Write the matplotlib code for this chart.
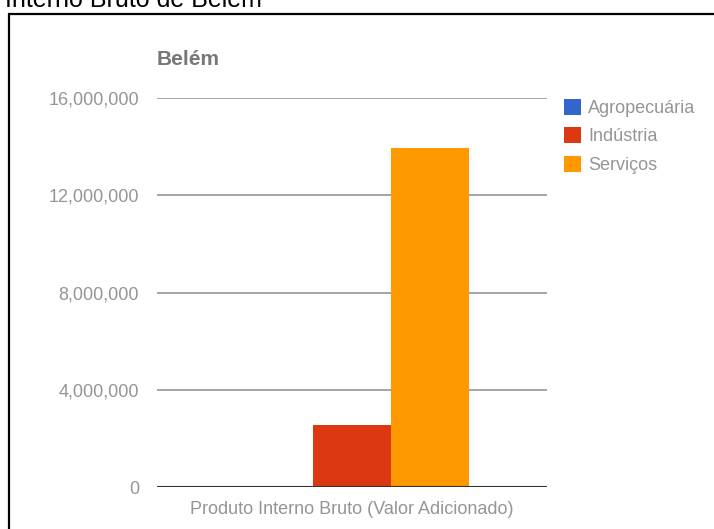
import matplotlib.pyplot as plt
from matplotlib.patches import Rectangle

# data (valor adicionado, Belém)
categories = ["Produto Interno Bruto (Valor Adicionado)"]
series = ["Agropecuária", "Indústria", "Serviços"]
values = [20000, 2550000, 13950000]
colors = ["#3366cc", "#dc3912", "#ff9900"]
yticks = [0, 4000000, 8000000, 12000000, 16000000]

W, H = 714, 529
fig = plt.figure(figsize=(W / 100, H / 100), dpi=100)
plt.rcParams['font.family'] = ['Liberation Sans', 'DejaVu Sans']

# header text cut off at the top, and the frame box
fig.text(262 / W, 1 - 7 / H, "Interno Bruto de Belém", ha="right", va="baseline",
         fontsize=18, color="black")
fig.patches.append(Rectangle((9 / W, -0.1), 1.2, 1 - 14 / H + 0.1,
                             transform=fig.transFigure, fill=False,
                             edgecolor="black", linewidth=1.6))

ax = fig.add_axes([157 / W, 1 - 487 / H, 390 / W, (487 - 98) / H])

width = 0.2
offsets = [-0.2, 0.0, 0.2]
for s, v, c, o in zip(series, values, colors, offsets):
    ax.bar(o, v, width=width * 0.99, color=c, label=s, zorder=3)

ax.set_xlim(-0.5, 0.5)
ax.set_ylim(0, 16000000)
ax.set_yticks(yticks)
ax.set_yticklabels([f"{t:,}" for t in yticks])
ax.set_xticks([0])
ax.set_xticklabels(categories)
ax.tick_params(axis="both", length=0, colors="#959595", labelsize=13)
ax.tick_params(axis="y", pad=13)
ax.tick_params(axis="x", pad=10)
ax.yaxis.grid(True, color="#8c8c8c", linewidth=1.1, zorder=0)
ax.axhline(0, color="#333333", linewidth=1.5, zorder=4)
for sp in ax.spines.values():
    sp.set_visible(False)

fig.text(157 / W, 1 - 65 / H, "Belém", fontsize=15, fontweight="bold",
         color="#777777", ha="left", va="baseline")

leg = fig.legend(loc="upper left", bbox_to_anchor=(564 / W, 1 - 99 / H),
                 frameon=False, borderpad=0, borderaxespad=0,
                 handlelength=0.95, handleheight=0.95, handletextpad=0.4,
                 labelspacing=0.58, fontsize=13)
for t in leg.get_texts():
    t.set_color("#959595")

fig.savefig("out.png", dpi=100)
